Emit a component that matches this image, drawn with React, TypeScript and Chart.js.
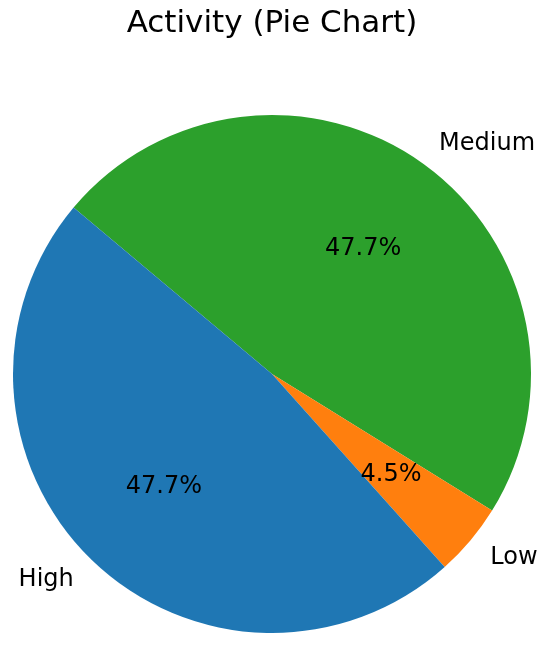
import React, { useEffect, useRef } from "react";
import { Chart, registerables } from "chart.js";

Chart.register(...registerables);

const categories = ["High", "Low", "Medium"];
const counts = [21, 2, 21];
const sliceColors = ["#1f77b4", "#ff7f0e", "#2ca02c"];
const titleText = "Activity (Pie Chart)";

const FONT = "'DejaVu Sans', Verdana, sans-serif";

const pieLabels = {
  id: "pieLabels",
  afterDatasetsDraw(chart: any) {
    const ctx = chart.ctx;
    const meta = chart.getDatasetMeta(0);
    const data = chart.data.datasets[0].data as number[];
    const total = data.reduce((a, b) => a + b, 0);
    const names = chart.data.labels as string[];
    ctx.save();
    ctx.fillStyle = "#000";
    ctx.font = `24px ${FONT}`;
    ctx.textBaseline = "middle";
    meta.data.forEach((arc: any, i: number) => {
      const { x, y, startAngle, endAngle, outerRadius } = arc.getProps(
        ["x", "y", "startAngle", "endAngle", "outerRadius"],
        true
      );
      const mid = (startAngle + endAngle) / 2;
      const c = Math.cos(mid);
      const s = Math.sin(mid);
      const lx = x + c * outerRadius * 1.1;
      const ly = y + s * outerRadius * 1.1 + 1;
      ctx.textAlign = c >= 0 ? "left" : "right";
      ctx.fillText(names[i], lx, ly);
      const px = x + c * outerRadius * 0.6;
      const py = y + s * outerRadius * 0.6 + 1;
      ctx.textAlign = "center";
      ctx.fillText(((data[i] / total) * 100).toFixed(1) + "%", px, py);
    });
    ctx.restore();
  },
};

export default function App() {
  const ref = useRef<HTMLCanvasElement | null>(null);
  useEffect(() => {
    document.body.style.margin = "0";
    const order = [2, 1, 0];
    const chart = new Chart(ref.current as HTMLCanvasElement, {
      type: "pie",
      data: {
        labels: order.map((i) => categories[i]),
        datasets: [
          {
            data: order.map((i) => counts[i]),
            backgroundColor: order.map((i) => sliceColors[i]),
            borderWidth: 0,
          },
        ],
      },
      options: {
        responsive: false,
        animation: false,
        rotation: -50,
        layout: { padding: { left: 13, right: 19, top: 0, bottom: 12 } },
        plugins: {
          legend: { display: false },
          tooltip: { enabled: false },
          title: {
            display: true,
            text: titleText,
            color: "#000",
            font: { family: FONT, size: 31, weight: "normal", lineHeight: 1.2 },
            padding: { top: 5, bottom: 72.8 },
          },
        },
      },
      plugins: [pieLabels],
    });
    return () => chart.destroy();
  }, []);
  return (
    <div style={{ position: "absolute", left: 0, top: 0, width: 550, height: 645, background: "#fff" }}>
      <canvas ref={ref} width={550} height={645} />
    </div>
  );
}
